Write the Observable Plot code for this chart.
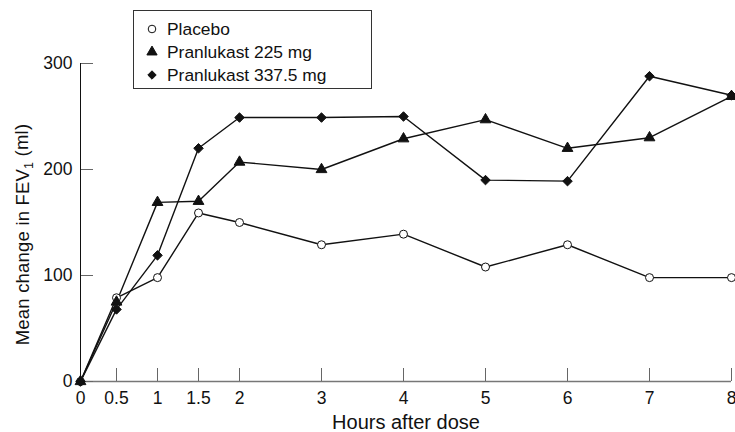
<!DOCTYPE html>
<html>
<head>
<meta charset="utf-8">
<script src="https://cdn.jsdelivr.net/npm/d3@7"></script>
<script src="https://cdn.jsdelivr.net/npm/@observablehq/plot@0.6"></script>
<style>
  body { margin: 0; background: #fff; }
  #wrap { position: relative; width: 735px; height: 432px; font-family: "Liberation Sans", Arial, Helvetica, sans-serif; }
  #legend { position: absolute; left: 133px; top: 10px; }
</style>
</head>
<body>
<div id="wrap"></div>
<script>
// ---- data ----
const hours    = [0, 0.5, 1, 1.5, 2, 3, 4, 5, 6, 7, 8];
const placebo  = [0, 79, 98, 159, 150, 129, 139, 108, 129, 98, 98];
const pran225  = [0, 75, 169, 170, 207, 200, 229, 247, 220, 230, 269];
const pran3375 = [0, 68, 119, 220, 249, 249, 250, 190, 189, 288, 270];
const seriesNames = ["Placebo", "Pranlukast 225 mg", "Pranlukast 337.5 mg"];
const xTicks = [0, 0.5, 1, 1.5, 2, 3, 4, 5, 6, 7, 8];
const yTicks = [0, 100, 200, 300];
const xLabel = "Hours after dose";
const yLabel = "Mean change in FEV1 (ml)";

// ---- styling ----
const seriesValues = [placebo, pran225, pran3375];
const symbols = ["circle", "triangle", "diamond2"];
const fills = ["white", "#111", "#111"];
const dotR = [4, 4, 4.3];

const rows = seriesNames.flatMap((name, i) =>
  hours.map((h, j) => ({series: name, hour: h, value: seriesValues[i][j]})));

const W = 735, H = 432, mL = 80, mR = 4, mT = 63, mB = 51;
const plotW = W - mL - mR, plotH = H - mT - mB;
const FONT = '"Liberation Sans", Arial, Helvetica, sans-serif';

const marks = [
  Plot.ruleY([0], {stroke: "#777", strokeWidth: 1.5}),
  Plot.tickX(xTicks, {x: d => d, stroke: "#666", strokeWidth: 1, insetTop: plotH - 13}),
  Plot.tickY(yTicks, {y: d => d, stroke: "#666", strokeWidth: 1, insetRight: plotW - 13}),
  Plot.ruleX([0], {stroke: "#111", strokeWidth: 1}),
  Plot.axisX({ticks: xTicks, tickSize: 0, tickPadding: 10, fontSize: 17.5, label: null, tickFormat: d => String(d)}),
  Plot.axisY({ticks: yTicks, tickSize: 0, tickPadding: 8, fontSize: 17.5, label: null, tickFormat: d => String(d)}),
  Plot.line(rows, {x: "hour", y: "value", z: "series", stroke: "#111", strokeWidth: 1.4})
];
seriesNames.forEach((name, i) => {
  marks.push(Plot.dot(rows.filter(r => r.series === name), {
    x: "hour", y: "value", symbol: symbols[i], r: dotR[i],
    fill: fills[i], stroke: "#111", strokeWidth: 1
  }));
});
marks.push(
  Plot.text([xLabel], {text: d => d, frameAnchor: "bottom", dy: 41, lineAnchor: "middle", fontSize: 20}),
  Plot.text([yLabel], {text: d => d, frameAnchor: "left", rotate: -90, dx: -57, dy: 12, lineAnchor: "middle", textAnchor: "middle", fontSize: 18.5})
);

const chart = Plot.plot({
  width: W, height: H,
  marginLeft: mL, marginRight: mR, marginTop: mT, marginBottom: mB,
  style: {fontFamily: FONT, fontSize: "17.5px", color: "#111", background: "white", overflow: "visible"},
  x: {type: "linear", domain: [0, 0.5, 8], range: [mL, mL + 36, W - mR]},
  y: {type: "linear", domain: [0, 300]},
  marks
});

// subscript in FEV1
d3.select(chart).selectAll("text").each(function() {
  const full = this.textContent;
  if (full !== yLabel) return;
  const t = d3.select(this).style("letter-spacing", "0.2px");
  const k = full.indexOf("FEV1");
  t.text(null);
  t.append("tspan").text(full.slice(0, k + 3));
  t.append("tspan").attr("dy", "0.3em").attr("font-size", "12.5px").text("1");
  t.append("tspan").attr("dy", "-0.3em").text(full.slice(k + 4));
});

document.getElementById("wrap").appendChild(chart);

// ---- legend (HTML overlay with inline SVG) ----
const lw = 239, lh = 79;
const leg = d3.select("#wrap").append("svg").attr("id", "legend")
  .attr("width", lw).attr("height", lh);
leg.append("rect").attr("x", 0.5).attr("y", 0.5).attr("width", lw - 1).attr("height", lh - 1)
  .attr("fill", "white").attr("stroke", "#333").attr("stroke-width", 1);
const symMap = {circle: d3.symbolCircle, triangle: d3.symbolTriangle, diamond2: d3.symbolDiamond2};
seriesNames.forEach((name, i) => {
  const base = 25 + 23 * i;
  leg.append("path")
    .attr("d", d3.symbol(symMap[symbols[i]], Math.PI * 3.8 * 3.8)())
    .attr("transform", `translate(19,${base - 6})`)
    .attr("fill", fills[i]).attr("stroke", "#111").attr("stroke-width", 1);
  leg.append("text").attr("x", 34).attr("y", base)
    .attr("font-family", FONT).attr("font-size", 17.4)
    .attr("fill", "#111").text(name);
});
</script>
</body>
</html>
